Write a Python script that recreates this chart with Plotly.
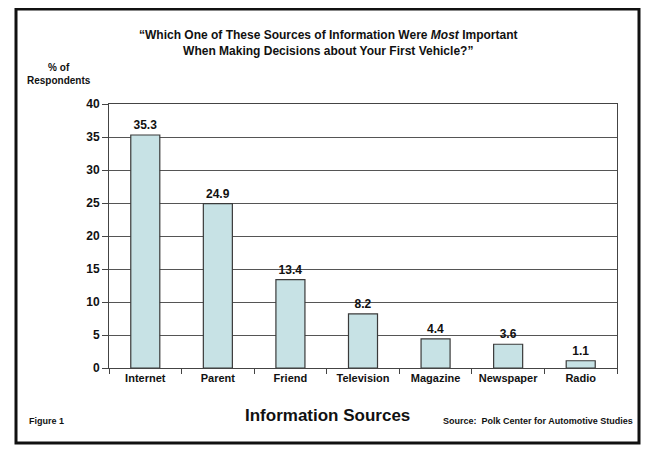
import plotly.graph_objects as go

categories = ["Internet", "Parent", "Friend", "Television", "Magazine", "Newspaper", "Radio"]
values = [35.3, 24.9, 13.4, 8.2, 4.4, 3.6, 1.1]
y_ticks = [0, 5, 10, 15, 20, 25, 30, 35, 40]

OFF = 8  # default page body margin
W, H = 650 - OFF, 453 - OFF
L, R, T, B = 109, 617, 104, 368  # plot area in page pixels

def px(x):
    return (x - L) / (R - L)

def py(y):
    return (B - y) / (B - T)

ARIAL = "Liberation Sans, Arial, sans-serif"

fig = go.Figure(go.Bar(
    x=categories, y=values,
    marker=dict(color="#C7E2E5", line=dict(color="#3a3a3a", width=1.2)),
    width=0.4,
    text=[f"{v:.1f}" for v in values],
    textposition="outside",
    textfont=dict(family=ARIAL, size=12, color="#111", weight="bold"),
    cliponaxis=False,
))

fig.update_layout(
    width=W, height=H,
    margin=dict(l=L - OFF, r=W - (R - OFF), t=T - OFF, b=H - (B - OFF), autoexpand=False),
    paper_bgcolor="white", plot_bgcolor="white",
    showlegend=False,
    bargap=0.6,
    font=dict(family=ARIAL, color="#111"),
)
fig.update_xaxes(
    type="category", tickson="boundaries", ticks="outside", ticklen=5,
    tickcolor="#444", showline=True, linecolor="#444", linewidth=1,
    mirror=True, showgrid=False, tickangle=0, automargin=False,
    tickfont=dict(family=ARIAL, size=11, color="#111", weight="bold"),
)
fig.update_yaxes(
    range=[0, 40], tickvals=y_ticks, ticks="outside", ticklen=6,
    tickcolor="#444", showline=True, linecolor="#444", linewidth=1,
    mirror=True, showgrid=True, gridcolor="#555", gridwidth=1,
    zeroline=False, automargin=False,
    tickfont=dict(family=ARIAL, size=12, color="#111", weight="bold"),
)

ann = [
    dict(text="“Which One of These Sources of Information Were <i>Most</i> Important<br>When Making Decisions about Your First Vehicle?”",
         x=px(328), y=py(43), font=dict(family=ARIAL, size=12, color="#111")),
    dict(text="% of<br>Respondents", x=px(59), y=py(74),
         font=dict(family=ARIAL, size=10, color="#111")),
    dict(text="Information Sources", x=px(327), y=py(415),
         font=dict(family=ARIAL, size=17, color="#111")),
    dict(text="Figure 1", x=px(46), y=py(421),
         font=dict(family=ARIAL, size=9, color="#111")),
    dict(text="Source:  Polk Center for Automotive Studies", x=px(635), y=py(421),
         xanchor="right", font=dict(family=ARIAL, size=9, color="#111")),
]
for a in ann:
    a.setdefault("xanchor", "center")
    a["text"] = "<b>" + a["text"] + "</b>"
    a.update(xref="paper", yref="paper", yanchor="middle", showarrow=False)
fig.update_layout(annotations=ann)

fig.add_shape(type="rect", xref="paper", yref="paper",
              x0=px(16), x1=px(639), y0=py(443), y1=py(9),
              line=dict(color="#111", width=3))

fig.write_html("out.html")
